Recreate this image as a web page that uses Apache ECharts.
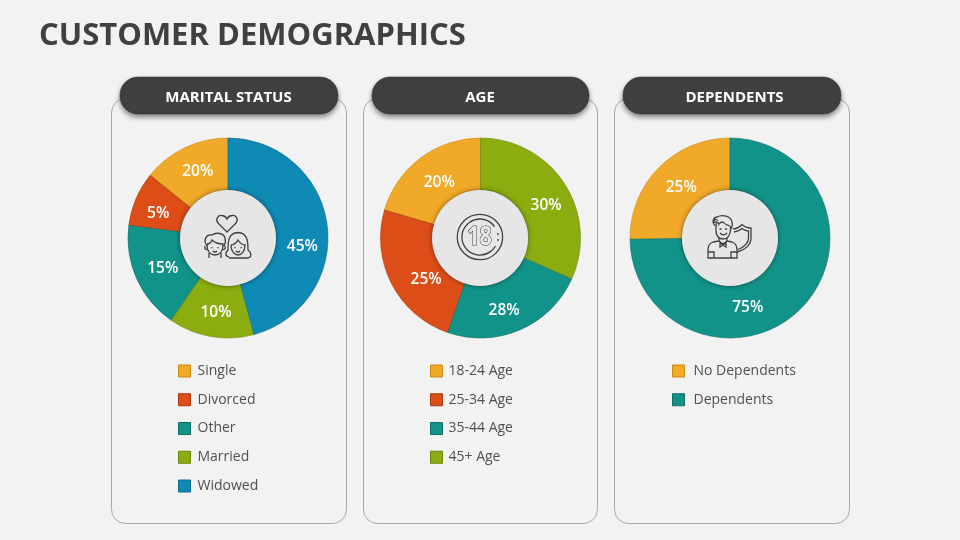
<!DOCTYPE html>
<html>
<head>
<meta charset="utf-8">
<style>html,body{margin:0;padding:0;background:#f2f2f2}#main{width:960px;height:540px}</style>
<script src="https://cdn.jsdelivr.net/npm/echarts@6/dist/echarts.min.js"></script>
</head>
<body>
<div id="main"></div>
<script>
var maritalNames=['Single','Divorced','Other','Married','Widowed'];
var maritalShares=[14.2,8.8,17.4,13.8,45.8]; // slice sizes as drawn
var maritalLabels=['20%','5%','15%','10%','45%']; // as printed on the slices
var maritalColors=['#F0A928','#DC4D17','#12938A','#8BAD10','#0E8AB5'];

var ageNames=['18-24 Age','25-34 Age','35-44 Age','45+ Age'];
var ageShares=[20.5,24.2,23.6,31.7];
var ageLabels=['20%','25%','28%','30%'];
var ageColors=['#F0A928','#DC4D17','#12938A','#8BAD10'];

var depNames=['No Dependents','Dependents'];
var depShares=[25.2,74.8];
var depLabels=['25%','75%'];
var depColors=['#F0A928','#12938A'];

var borders={'#F0A928':'#C98A12','#DC4D17':'#A93A10','#12938A':'#0D6F68','#8BAD10':'#6B860A','#0E8AB5':'#0A6A8C'};
var FONT='"Open Sans"';
var DARK='#404040';

// the reference labels sit off the mid angle of their slices, so nudge them
var maritalNudge=[[3,3],[1,6],[5,-1],[1,-1],[-2,19]];
var ageNudge=[[5,6],[14,6],[-7,2],[1,9]];
var depNudge=[[6,4],[-37,15]];

function makePie(names,shares,labels,colors,nudge,cx){
	var data=[];
	for(var i=0;i<names.length;i++){
		data.push({
			name:names[i],
			value:shares[i],
			itemStyle:{color:colors[i],borderColor:borders[colors[i]],borderWidth:0.6},
			label:{offset:nudge[i]}
		});
	}
	return {
		type:'pie',
		silent:true,
		animation:false,
		clockwise:false,
		startAngle:90,
		center:[cx,238],
		radius:[48,100],
		data:data,
		label:{
			position:'inside',
			color:'#fff',
			fontFamily:FONT,
			fontWeight:600,
			fontSize:15.5,
			formatter:function(p){return labels[p.dataIndex];}
		},
		labelLine:{show:false}
	};
}

function makeLegend(names,left,textGap){
	return {
		orient:'vertical',
		left:left,
		top:364,
		padding:0,
		data:names,
		icon:'rect',
		itemWidth:12,
		itemHeight:12,
		itemGap:14.75,
		selectedMode:false,
		itemStyle:{borderWidth:1},
		textStyle:{color:'#505050',fontFamily:FONT,fontSize:14,padding:[0,0,0,textGap]}
	};
}

function card(x,w){
	return {type:'rect',z:0,shape:{x:x,y:98.5,width:w,height:425,r:14},
		style:{fill:'#f2f2f2',stroke:'#a8a8a8',lineWidth:1}};
}
function pill(x,w,text,tx){
	return [
		{type:'rect',z:1,shape:{x:x,y:77,width:w,height:37,r:18},
			style:{fill:DARK,stroke:'#303030',lineWidth:0.5,shadowBlur:5,shadowOffsetY:3,shadowColor:'rgba(0,0,0,0.45)'}},
		{type:'text',z:3,style:{text:text,x:tx,y:97.5,fill:'#fff',align:'center',verticalAlign:'middle',
			font:'700 15px '+FONT}}
	];
}
function disc(cx){
	return {type:'circle',z:5,shape:{cx:cx,cy:238,r:48},
		style:{fill:'#e6e6e6',shadowBlur:5,shadowColor:'rgba(0,0,0,0.45)'}};
}
// graphic has no plain path type, so each icon is registered as its own shape
function icon(name,d){
	echarts.graphic.registerShape(name,echarts.graphic.extendPath(d,{}));
	return {type:name,z:6,style:{fill:null,stroke:DARK,lineWidth:1.3}};
}

// line icons in the middle of the three rings
var coupleIcon=
	'M227 232 L218 223 C215 219 218 215 222 215.5 C224.5 215.7 226 217 227 219 C228 217 229.5 215.7 232 215.5 C236 215 239 219 236 223 Z'+
	'M207 246 C203 240 206 234 212 235 C216 232 224 233 225 238 C226 241 225 244 224 246'+
	'M207 244 C207 252 211 255 215 255 C219 255 223 252 223 244 C218 244 214 242 212 240 C211 243 209 244 207 244'+
	'M205 246 C204 249 206 250 207.5 249.5 M225 246 C226 249 224 250 222.5 249.5'+
	'M209 253 L209 258 M221 253 L221 258'+
	'M212 247 L212 248.2 M218 247 L218 248.2 M213 251 C214 252.4 216 252.4 217 251'+
	'M229 257 C224 256 226 252 228 250 C228 242 228 233 238 232.5 C248 233 248 242 248 250 C251 252 253 258 247 258 L229 258'+
	'M231 245 C233 245 237 243 238 240 C240 243 243 245 245 245 C245 252 241 255 238 255 C235 255 231 252 231 245'+
	'M235 247 L235 248.2 M241 247 L241 248.2 M236 251 C237 252.4 239 252.4 240 251';
var ageRings=
	'M480 214.3 A22.7 22.7 0 1 1 479.9 214.3'+
	'M494.5 226.5 A18 18 0 1 0 495.5 246 M498 233 L498 235 M498 239 L498 241';
var shieldIcon=
	'M716 226 C712 224 712 218 717 217 C722 214 731 216 732 222 C733 226 731 229 730 230'+
	'M718 221 C716 218 713 220 714.5 222 C715.5 223 717 222 716.5 221'+
	'M716 226 C716 222 719 222 719 224 C720 222 722 222 723 222 C725 225 728 225 730 226'+
	'M716 226 L716 232 C717 237 720 239 723 239 C727 239 730 236 730.5 230 L730.5 226'+
	'M719.5 229.5 L720.5 228.8 L721.5 229.5 M725 229.5 L726 228.8 L727 229.5 M720 233 C722 235.4 725 235.4 727 233'+
	'M719 238 L719 241 L723 244 L727 241 L727 238 M720 243 L723 245 L720 247 Z M726 243 L723 245 L726 247 Z'+
	'M719 241 L713 242 C710 243 708 246 708 250 L708 258 L737 258 L737 250 C737 246 735 243 732 242 L727 241'+
	'M708 252 L714 252 L714 258 M737 252 L731 252 L731 258'+
	'M733 229 C737 228.5 740 227 742 224.5 C744.5 227 748 228 751 228 L751 238 C751 245 745 250 737.5 252'+
	'M734 232 C738 231.5 740.5 230 742 228.5 C744 230 746 231 748.5 231 L748.5 238 C748.5 243 744 247 738 249.5';

var graphicEls=[
	card(111.5,235),card(363.5,234),card(614.5,235),
	disc(228),disc(480),disc(730),
	icon('coupleIcon',coupleIcon),icon('ageRings',ageRings),icon('shieldIcon',shieldIcon),
	{type:'text',z:6,x:479.5,y:237,scaleX:0.8,style:{text:'18',x:0,y:0,fill:'#e6e6e6',stroke:DARK,lineWidth:1.2,
		align:'center',verticalAlign:'middle',font:'700 27px '+FONT}}
].concat(
	pill(120,218,'MARITAL STATUS',228.5),
	pill(372,217,'AGE',480),
	pill(623,218,'DEPENDENTS',734.5)
);

var chart=echarts.init(document.getElementById('main'),null,{renderer:'canvas'});
chart.setOption({
	backgroundColor:'#f2f2f2',
	animation:false,
	title:{
		text:'CUSTOMER DEMOGRAPHICS',
		left:34,
		top:16,
		textStyle:{color:DARK,fontFamily:FONT,fontWeight:700,fontSize:31}
	},
	legend:[
		makeLegend(maritalNames,178,2),
		makeLegend(ageNames,430,1),
		makeLegend(depNames,672,4)
	],
	graphic:{elements:graphicEls},
	series:[
		makePie(maritalNames,maritalShares,maritalLabels,maritalColors,maritalNudge,228),
		makePie(ageNames,ageShares,ageLabels,ageColors,ageNudge,480.5),
		makePie(depNames,depShares,depLabels,depColors,depNudge,730)
	]
});
</script>
</body>
</html>
